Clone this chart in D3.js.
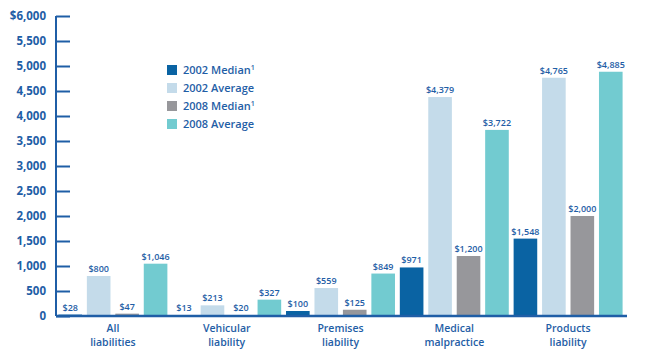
<!DOCTYPE html>
<html>
<head>
<meta charset="utf-8">
<script src="https://cdn.jsdelivr.net/npm/d3@7"></script>
<style>
  body { margin: 0; background: #fff; }
  svg { display: block; font-family: "Open Sans", sans-serif; }
</style>
</head>
<body>
<div class="chart"></div>
<script>
// data
const categories = [["All", "liabilities"], ["Vehicular", "liability"], ["Premises", "liability"], ["Medical", "malpractice"], ["Products", "liability"]];
const seriesNames = ["2002 Median", "2002 Average", "2008 Median", "2008 Average"];
const median2002 = [28, 13, 100, 971, 1548];
const average2002 = [800, 213, 559, 4379, 4765];
const median2008 = [47, 20, 125, 1200, 2000];
const average2008 = [1046, 327, 849, 3722, 4885];
const yTicks = [0, 500, 1000, 1500, 2000, 2500, 3000, 3500, 4000, 4500, 5000, 5500, 6000];

const colors = ["#0a63a3", "#c4dbea", "#97979b", "#72cbd0"];
const textColor = "#1f5ea6";

const width = 650, height = 354;
const margin = {top: 16, right: 25, bottom: 38, left: 56};
const innerW = width - margin.left - margin.right,
      innerH = height - margin.top - margin.bottom;

const series = [median2002, average2002, median2008, average2008];
const rows = categories.map((c, i) => ({cat: i, values: series.map(s => s[i])}));

const svg = d3.select(".chart").append("svg")
    .attr("width", width)
    .attr("height", height)
  .append("g")
    .attr("transform", "translate(" + margin.left + "," + margin.top + ")");

const x0 = d3.scaleBand()
    .domain(d3.range(categories.length))
    .range([0, innerW])
    .padding(0);

const x1 = d3.scaleBand()
    .domain(d3.range(seriesNames.length))
    .range([0, x0.bandwidth()])
    .paddingInner(0.17)
    .paddingOuter(0.085);

const y = d3.scaleLinear()
    .domain([0, 6000])
    .range([innerH, 0]);

// y axis
const yAxis = svg.append("g")
    .call(d3.axisRight(y).tickValues(yTicks).tickSize(14).tickFormat(""));
yAxis.select(".domain").attr("stroke", textColor).attr("stroke-width", 2).attr("d", "M0,0V" + innerH);
yAxis.selectAll(".tick line").attr("stroke", textColor).attr("stroke-width", 2);

svg.append("g")
  .selectAll("text")
  .data(yTicks)
  .enter()
  .append("text")
    .attr("x", -10)
    .attr("y", d => y(d))
    .attr("dy", "0.35em")
    .attr("text-anchor", "end")
    .attr("fill", textColor)
    .attr("font-size", 11.5)
    .attr("font-weight", 700)
    .text(d => d === 6000 ? "$" + d3.format(",")(d) : d3.format(",")(d));

// bars
const groups = svg.append("g")
  .selectAll("g")
  .data(rows)
  .enter()
  .append("g")
    .attr("transform", d => "translate(" + x0(d.cat) + ",0)");

groups.selectAll("rect")
  .data(d => d.values.map((v, k) => ({k: k, v: v})))
  .enter()
  .append("rect")
    .attr("x", d => x1(d.k))
    .attr("y", d => y(d.v))
    .attr("width", x1.bandwidth())
    .attr("height", d => innerH - y(d.v))
    .attr("fill", d => colors[d.k]);

groups.selectAll("text.val")
  .data(d => d.values.map((v, k) => ({k: k, v: v})))
  .enter()
  .append("text")
    .attr("class", "val")
    .attr("x", d => x1(d.k) + x1.bandwidth() / 2)
    .attr("y", d => y(d.v) - 4)
    .attr("text-anchor", "middle")
    .attr("fill", textColor)
    .attr("font-size", 9)
    .attr("font-weight", 600)
    .text(d => "$" + d3.format(",")(d.v));

// baseline
svg.append("line")
    .attr("x1", 0)
    .attr("x2", innerW + 2)
    .attr("y1", innerH)
    .attr("y2", innerH)
    .attr("stroke", textColor)
    .attr("stroke-width", 2.5);

// category labels, one text per line
const catG = svg.append("g")
  .selectAll("g")
  .data(categories)
  .enter()
  .append("g")
    .attr("transform", (d, i) => "translate(" + (x0(i) + x0.bandwidth() / 2) + "," + innerH + ")");
catG.selectAll("text")
  .data(d => d)
  .enter()
  .append("text")
    .attr("y", (d, j) => 15.5 + j * 14.5)
    .attr("text-anchor", "middle")
    .attr("fill", textColor)
    .attr("font-size", 10.5)
    .attr("font-weight", 600)
    .text(d => d);

// legend
const legend = svg.append("g")
    .attr("transform", "translate(111,49)");
const items = legend.selectAll("g")
  .data(seriesNames)
  .enter()
  .append("g")
    .attr("transform", (d, i) => "translate(0," + i * 18 + ")");
items.append("rect")
    .attr("width", 10)
    .attr("height", 10)
    .attr("fill", (d, i) => colors[i]);
const lt = items.append("text")
    .attr("x", 16)
    .attr("y", 5)
    .attr("dy", "0.35em")
    .attr("fill", textColor)
    .attr("font-size", 11)
    .attr("font-weight", 600)
    .text(d => d);
lt.filter(d => d.indexOf("Median") >= 0)
  .append("tspan")
    .attr("font-size", 7)
    .attr("dy", -4)
    .text("1");
</script>
</body>
</html>
